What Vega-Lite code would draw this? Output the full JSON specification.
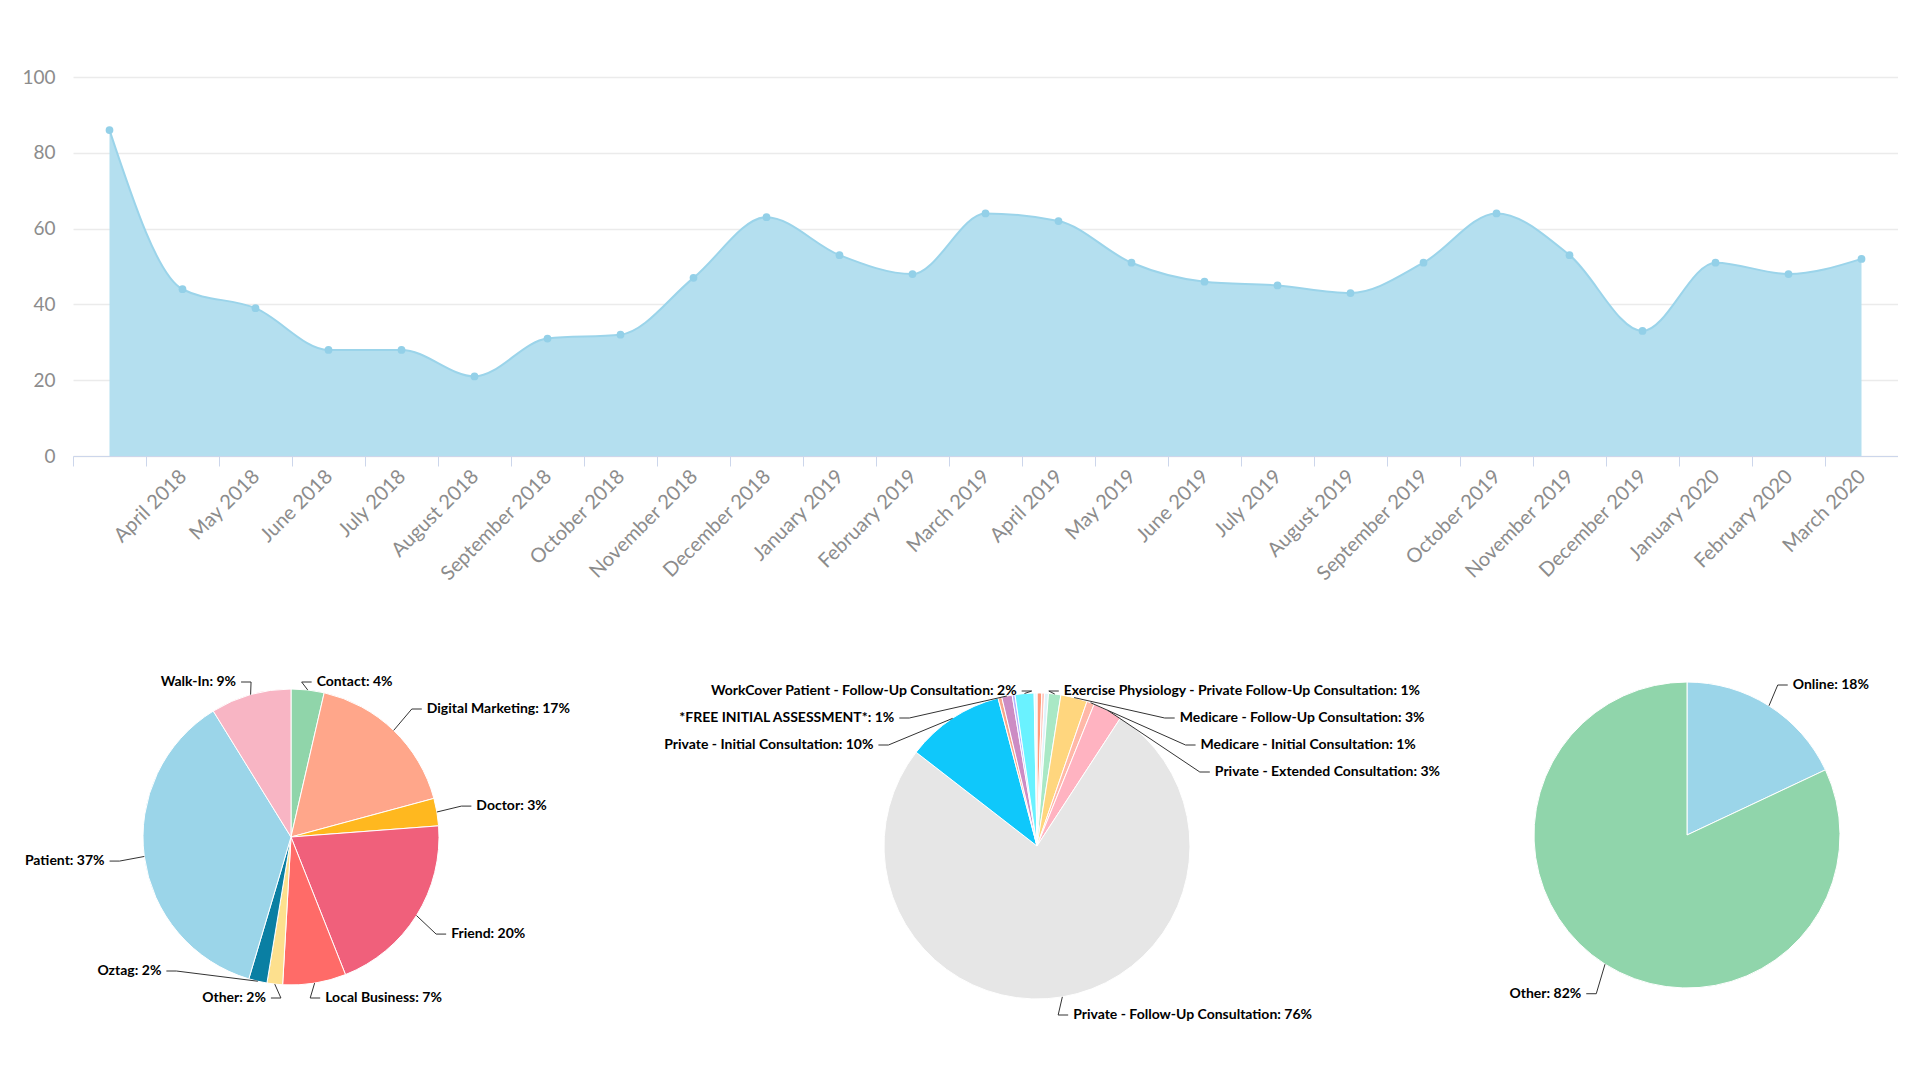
{
  "$schema": "https://vega.github.io/schema/vega-lite/v6.json",
  "background": "white",
  "padding": {"left": 21, "top": 68, "right": 0, "bottom": 0},
  "autosize": {"type": "pad"},
  "bounds": "flush",
  "spacing": 200,
  "config": {
    "view": {"stroke": null},
    "font": "Lato",
    "axis": {"labelFont": "Lato"},
    "text": {"font": "Lato", "fontWeight": "bold", "fontSize": 14, "color": "#000000", "baseline": "middle"},
    "rule": {"color": "#333333", "strokeWidth": 1}
  },
  "vconcat": [
    {
      "width": 1825,
      "height": 379,
      "data": {
        "values": [
          {"month": "March 2018", "value": 86},
          {"month": "April 2018", "value": 44},
          {"month": "May 2018", "value": 39},
          {"month": "June 2018", "value": 28},
          {"month": "July 2018", "value": 28},
          {"month": "August 2018", "value": 21},
          {"month": "September 2018", "value": 31},
          {"month": "October 2018", "value": 32},
          {"month": "November 2018", "value": 47},
          {"month": "December 2018", "value": 63},
          {"month": "January 2019", "value": 53},
          {"month": "February 2019", "value": 48},
          {"month": "March 2019", "value": 64},
          {"month": "April 2019", "value": 62},
          {"month": "May 2019", "value": 51},
          {"month": "June 2019", "value": 46},
          {"month": "July 2019", "value": 45},
          {"month": "August 2019", "value": 43},
          {"month": "September 2019", "value": 51},
          {"month": "October 2019", "value": 64},
          {"month": "November 2019", "value": 53},
          {"month": "December 2019", "value": 33},
          {"month": "January 2020", "value": 51},
          {"month": "February 2020", "value": 48},
          {"month": "March 2020", "value": 52}
        ]
      },
      "encoding": {
        "x": {
          "field": "month",
          "type": "ordinal",
          "sort": null,
          "scale": {"type": "point", "padding": 0.5},
          "axis": {
            "title": null,
            "labelAngle": -45,
            "labelAlign": "right",
            "labelBaseline": "middle",
            "labelFontSize": 20,
            "labelColor": "#8c8c8c",
            "labelPadding": 7,
            "tickSize": 10,
            "tickColor": "#ccd6eb",
            "domainColor": "#ccd6eb",
            "tickOffset": -36.5,
            "labelOffset": 37,
            "labelOverlap": false,
            "labelBound": false,
            "grid": false,
            "labelExpr": "datum.value == 'March 2018' ? '' : datum.label"
          }
        },
        "y": {
          "field": "value",
          "type": "quantitative",
          "scale": {"domain": [0, 100], "nice": false},
          "axis": {
            "title": null,
            "values": [0, 20, 40, 60, 80, 100],
            "domain": false,
            "ticks": false,
            "labelFontSize": 19,
            "labelColor": "#8c8c8c",
            "labelPadding": 18,
            "gridColor": "#ebebeb",
            "gridWidth": 1.5
          }
        }
      },
      "layer": [
        {
          "mark": {
            "type": "area",
            "interpolate": "monotone",
            "color": "#b4dfef",
            "opacity": 1,
            "line": {"color": "#9bd4ea", "strokeWidth": 2}
          }
        },
        {
          "mark": {"type": "point", "filled": true, "size": 60, "color": "#93d0e8", "opacity": 1}
        }
      ]
    },
    {
      "hconcat": [
        {
          "width": 436,
          "height": 362,
          "data": {
            "values": [
              {"name": "Contact", "value": 3.6},
              {"name": "Digital Marketing", "value": 17.2},
              {"name": "Doctor", "value": 3.0},
              {"name": "Friend", "value": 20.2},
              {"name": "Local Business", "value": 6.9},
              {"name": "Other", "value": 1.7},
              {"name": "Oztag", "value": 2.0},
              {"name": "Patient", "value": 36.6},
              {"name": "Walk-In", "value": 8.8}
            ]
          },
          "transform": [
            {"window": [{"op": "row_number", "as": "idx"}]},
            {"joinaggregate": [{"op": "sum", "field": "value", "as": "total"}]},
            {"window": [{"op": "sum", "field": "value", "as": "cum"}], "sort": [{"field": "idx"}], "frame": [null, 0]},
            {"calculate": "(datum.cum - datum.value / 2) / datum.total * 2 * PI", "as": "mid"},
            {"calculate": "datum.mid < PI ? 1 : -1", "as": "side"},
            {"calculate": "datum.value / datum.total >= 0.0075", "as": "shown"},
            {"calculate": "datum.side * datum.mid", "as": "skey"},
            {"window": [{"op": "row_number", "as": "rk"}], "groupby": ["side", "shown"], "sort": [{"field": "skey"}]},
            {"joinaggregate": [{"op": "count", "as": "n"}], "groupby": ["side", "shown"]},
            {"calculate": "min(155, max(-161, 183 * cos(datum.mid)))", "as": "yc"},
            {"calculate": "max(min(datum.yc, 155 - (datum.rk - 1) * 27), -161 + (datum.n - datum.rk) * 27)", "as": "ly"},
            {"calculate": "abs(datum.ly - datum.yc) > 0.5 ? datum.side * sqrt(max(0, 183 * 183 - datum.ly * datum.ly)) : 183 * sin(datum.mid)", "as": "lx"},
            {"calculate": "datum.lx + datum.side * 5", "as": "tx"},
            {"calculate": "datum.lx - datum.side * 10", "as": "kx"},
            {"calculate": "148 * sin(datum.mid)", "as": "ex"},
            {"calculate": "148 * cos(datum.mid)", "as": "ey"},
            {"calculate": "datum.name + ': ' + format(datum.value / datum.total * 100, '.0f') + '%'", "as": "label"}
          ],
          "layer": [
            {
              "mark": {"type": "arc", "radius": 148, "stroke": "#ffffff", "strokeWidth": 1},
              "encoding": {
                "theta": {"field": "value", "type": "quantitative", "stack": true},
                "order": {"field": "idx", "type": "quantitative"},
                "color": {
                  "field": "name",
                  "type": "nominal",
                  "legend": null,
                  "scale": {
                    "domain": ["Contact", "Digital Marketing", "Doctor", "Friend", "Local Business", "Other", "Oztag", "Patient", "Walk-In"],
                    "range": ["#90d5aa", "#ffa68a", "#ffb81f", "#f0607b", "#ff6b68", "#fde08e", "#0a7fa3", "#9bd5e9", "#f8b5c4"]
                  }
                }
              }
            },
            {
              "transform": [{"filter": "datum.shown"}],
              "mark": {"type": "rule"},
              "encoding": {
                "x": {"field": "lx", "type": "quantitative", "scale": {"domain": [-218, 218], "nice": false, "zero": false}, "axis": null},
                "y": {"field": "ly", "type": "quantitative", "scale": {"domain": [-181, 181], "nice": false, "zero": false}, "axis": null},
                "x2": {"field": "kx"},
                "y2": {"field": "ly"}
              }
            },
            {
              "transform": [{"filter": "datum.shown"}],
              "mark": {"type": "rule"},
              "encoding": {
                "x": {"field": "kx", "type": "quantitative", "scale": {"domain": [-218, 218], "nice": false, "zero": false}, "axis": null},
                "y": {"field": "ly", "type": "quantitative", "scale": {"domain": [-181, 181], "nice": false, "zero": false}, "axis": null},
                "x2": {"field": "ex"},
                "y2": {"field": "ey"}
              }
            },
            {
              "transform": [{"filter": "datum.shown && datum.side == 1"}],
              "mark": {"type": "text", "align": "left"},
              "encoding": {
                "x": {"field": "tx", "type": "quantitative", "scale": {"domain": [-218, 218], "nice": false, "zero": false}, "axis": null},
                "y": {"field": "ly", "type": "quantitative", "scale": {"domain": [-181, 181], "nice": false, "zero": false}, "axis": null},
                "text": {"field": "label", "type": "nominal"}
              }
            },
            {
              "transform": [{"filter": "datum.shown && datum.side == -1"}],
              "mark": {"type": "text", "align": "right"},
              "encoding": {
                "x": {"field": "tx", "type": "quantitative", "scale": {"domain": [-218, 218], "nice": false, "zero": false}, "axis": null},
                "y": {"field": "ly", "type": "quantitative", "scale": {"domain": [-181, 181], "nice": false, "zero": false}, "axis": null},
                "text": {"field": "label", "type": "nominal"}
              }
            }
          ]
        },
        {
          "width": 1056,
          "height": 380,
          "data": {
            "values": [
              {"name": "Exercise Physiology - Initial Consultation", "value": 0.5},
              {"name": "Exercise Physiology - Medicare Consultation", "value": 0.3},
              {"name": "Exercise Physiology - Private Consultation", "value": 0.4},
              {"name": "Exercise Physiology - Private Follow-Up Consultation", "value": 1.3},
              {"name": "Medicare - Follow-Up Consultation", "value": 2.8},
              {"name": "Medicare - Initial Consultation", "value": 0.8},
              {"name": "Private - Extended Consultation", "value": 3.1},
              {"name": "Private - Follow-Up Consultation", "value": 76.3},
              {"name": "Private - Initial Consultation", "value": 10.4},
              {"name": "WorkCover - Initial Consultation", "value": 0.4},
              {"name": "*FREE INITIAL ASSESSMENT*", "value": 1.1},
              {"name": "Telehealth Consultation", "value": 0.3},
              {"name": "WorkCover Patient - Follow-Up Consultation", "value": 2.0},
              {"name": "WorkCover Patient - Initial Consultation", "value": 0.3}
            ]
          },
          "transform": [
            {"window": [{"op": "row_number", "as": "idx"}]},
            {"joinaggregate": [{"op": "sum", "field": "value", "as": "total"}]},
            {"window": [{"op": "sum", "field": "value", "as": "cum"}], "sort": [{"field": "idx"}], "frame": [null, 0]},
            {"calculate": "(datum.cum - datum.value / 2) / datum.total * 2 * PI", "as": "mid"},
            {"calculate": "datum.mid < PI ? 1 : -1", "as": "side"},
            {"calculate": "datum.value / datum.total >= 0.0075", "as": "shown"},
            {"calculate": "datum.side * datum.mid", "as": "skey"},
            {"window": [{"op": "row_number", "as": "rk"}], "groupby": ["side", "shown"], "sort": [{"field": "skey"}]},
            {"joinaggregate": [{"op": "count", "as": "n"}], "groupby": ["side", "shown"]},
            {"calculate": "min(155, max(-169, 188 * cos(datum.mid)))", "as": "yc"},
            {"calculate": "max(min(datum.yc, 155 - (datum.rk - 1) * 27), -169 + (datum.n - datum.rk) * 27)", "as": "ly"},
            {"calculate": "abs(datum.ly - datum.yc) > 0.5 ? datum.side * sqrt(max(0, 188 * 188 - datum.ly * datum.ly)) : 188 * sin(datum.mid)", "as": "lx"},
            {"calculate": "datum.lx + datum.side * 5", "as": "tx"},
            {"calculate": "datum.lx - datum.side * 10", "as": "kx"},
            {"calculate": "153 * sin(datum.mid)", "as": "ex"},
            {"calculate": "153 * cos(datum.mid)", "as": "ey"},
            {"calculate": "datum.name + ': ' + format(datum.value / datum.total * 100, '.0f') + '%'", "as": "label"}
          ],
          "layer": [
            {
              "mark": {"type": "arc", "radius": 153, "stroke": "#ffffff", "strokeWidth": 1},
              "encoding": {
                "theta": {"field": "value", "type": "quantitative", "stack": true},
                "order": {"field": "idx", "type": "quantitative"},
                "color": {
                  "field": "name",
                  "type": "nominal",
                  "legend": null,
                  "scale": {
                    "domain": [
                      "Exercise Physiology - Initial Consultation",
                      "Exercise Physiology - Medicare Consultation",
                      "Exercise Physiology - Private Consultation",
                      "Exercise Physiology - Private Follow-Up Consultation",
                      "Medicare - Follow-Up Consultation",
                      "Medicare - Initial Consultation",
                      "Private - Extended Consultation",
                      "Private - Follow-Up Consultation",
                      "Private - Initial Consultation",
                      "WorkCover - Initial Consultation",
                      "*FREE INITIAL ASSESSMENT*",
                      "Telehealth Consultation",
                      "WorkCover Patient - Follow-Up Consultation",
                      "WorkCover Patient - Initial Consultation"
                    ],
                    "range": ["#ff9a7b", "#ffc8c0", "#dff3fb", "#a9e8c5", "#ffd67e", "#ffb8a8", "#ffb3c1", "#e6e6e6", "#0fc8fb", "#f7a78c", "#cc8cc4", "#b3b3ff", "#6af2ff", "#e9fbff"]
                  }
                }
              }
            },
            {
              "transform": [{"filter": "datum.shown"}],
              "mark": {"type": "rule"},
              "encoding": {
                "x": {"field": "lx", "type": "quantitative", "scale": {"domain": [-528, 528], "nice": false, "zero": false}, "axis": null},
                "y": {"field": "ly", "type": "quantitative", "scale": {"domain": [-190, 190], "nice": false, "zero": false}, "axis": null},
                "x2": {"field": "kx"},
                "y2": {"field": "ly"}
              }
            },
            {
              "transform": [{"filter": "datum.shown"}],
              "mark": {"type": "rule"},
              "encoding": {
                "x": {"field": "kx", "type": "quantitative", "scale": {"domain": [-528, 528], "nice": false, "zero": false}, "axis": null},
                "y": {"field": "ly", "type": "quantitative", "scale": {"domain": [-190, 190], "nice": false, "zero": false}, "axis": null},
                "x2": {"field": "ex"},
                "y2": {"field": "ey"}
              }
            },
            {
              "transform": [{"filter": "datum.shown && datum.side == 1"}],
              "mark": {"type": "text", "align": "left"},
              "encoding": {
                "x": {"field": "tx", "type": "quantitative", "scale": {"domain": [-528, 528], "nice": false, "zero": false}, "axis": null},
                "y": {"field": "ly", "type": "quantitative", "scale": {"domain": [-190, 190], "nice": false, "zero": false}, "axis": null},
                "text": {"field": "label", "type": "nominal"}
              }
            },
            {
              "transform": [{"filter": "datum.shown && datum.side == -1"}],
              "mark": {"type": "text", "align": "right"},
              "encoding": {
                "x": {"field": "tx", "type": "quantitative", "scale": {"domain": [-528, 528], "nice": false, "zero": false}, "axis": null},
                "y": {"field": "ly", "type": "quantitative", "scale": {"domain": [-190, 190], "nice": false, "zero": false}, "axis": null},
                "text": {"field": "label", "type": "nominal"}
              }
            }
          ]
        },
        {
          "width": 244,
          "height": 358,
          "data": {
            "values": [
              {"name": "Online", "value": 18},
              {"name": "Other", "value": 82}
            ]
          },
          "transform": [
            {"window": [{"op": "row_number", "as": "idx"}]},
            {"joinaggregate": [{"op": "sum", "field": "value", "as": "total"}]},
            {"window": [{"op": "sum", "field": "value", "as": "cum"}], "sort": [{"field": "idx"}], "frame": [null, 0]},
            {"calculate": "(datum.cum - datum.value / 2) / datum.total * 2 * PI", "as": "mid"},
            {"calculate": "datum.mid < PI ? 1 : -1", "as": "side"},
            {"calculate": "datum.value / datum.total >= 0.0075", "as": "shown"},
            {"calculate": "datum.side * datum.mid", "as": "skey"},
            {"window": [{"op": "row_number", "as": "rk"}], "groupby": ["side", "shown"], "sort": [{"field": "skey"}]},
            {"joinaggregate": [{"op": "count", "as": "n"}], "groupby": ["side", "shown"]},
            {"calculate": "min(150, max(-165, 188 * cos(datum.mid)))", "as": "yc"},
            {"calculate": "max(min(datum.yc, 150 - (datum.rk - 1) * 27), -165 + (datum.n - datum.rk) * 27)", "as": "ly"},
            {"calculate": "abs(datum.ly - datum.yc) > 0.5 ? datum.side * sqrt(max(0, 188 * 188 - datum.ly * datum.ly)) : 188 * sin(datum.mid)", "as": "lx"},
            {"calculate": "datum.lx + datum.side * 5", "as": "tx"},
            {"calculate": "datum.lx - datum.side * 10", "as": "kx"},
            {"calculate": "153 * sin(datum.mid)", "as": "ex"},
            {"calculate": "153 * cos(datum.mid)", "as": "ey"},
            {"calculate": "datum.name + ': ' + format(datum.value / datum.total * 100, '.0f') + '%'", "as": "label"}
          ],
          "layer": [
            {
              "mark": {"type": "arc", "radius": 153, "stroke": "#ffffff", "strokeWidth": 1},
              "encoding": {
                "theta": {"field": "value", "type": "quantitative", "stack": true},
                "order": {"field": "idx", "type": "quantitative"},
                "color": {
                  "field": "name",
                  "type": "nominal",
                  "legend": null,
                  "scale": {"domain": ["Online", "Other"], "range": ["#9bd5e9", "#90d5ab"]}
                }
              }
            },
            {
              "transform": [{"filter": "datum.shown"}],
              "mark": {"type": "rule"},
              "encoding": {
                "x": {"field": "lx", "type": "quantitative", "scale": {"domain": [-122, 122], "nice": false, "zero": false}, "axis": null},
                "y": {"field": "ly", "type": "quantitative", "scale": {"domain": [-179, 179], "nice": false, "zero": false}, "axis": null},
                "x2": {"field": "kx"},
                "y2": {"field": "ly"}
              }
            },
            {
              "transform": [{"filter": "datum.shown"}],
              "mark": {"type": "rule"},
              "encoding": {
                "x": {"field": "kx", "type": "quantitative", "scale": {"domain": [-122, 122], "nice": false, "zero": false}, "axis": null},
                "y": {"field": "ly", "type": "quantitative", "scale": {"domain": [-179, 179], "nice": false, "zero": false}, "axis": null},
                "x2": {"field": "ex"},
                "y2": {"field": "ey"}
              }
            },
            {
              "transform": [{"filter": "datum.shown && datum.side == 1"}],
              "mark": {"type": "text", "align": "left"},
              "encoding": {
                "x": {"field": "tx", "type": "quantitative", "scale": {"domain": [-122, 122], "nice": false, "zero": false}, "axis": null},
                "y": {"field": "ly", "type": "quantitative", "scale": {"domain": [-179, 179], "nice": false, "zero": false}, "axis": null},
                "text": {"field": "label", "type": "nominal"}
              }
            },
            {
              "transform": [{"filter": "datum.shown && datum.side == -1"}],
              "mark": {"type": "text", "align": "right"},
              "encoding": {
                "x": {"field": "tx", "type": "quantitative", "scale": {"domain": [-122, 122], "nice": false, "zero": false}, "axis": null},
                "y": {"field": "ly", "type": "quantitative", "scale": {"domain": [-179, 179], "nice": false, "zero": false}, "axis": null},
                "text": {"field": "label", "type": "nominal"}
              }
            }
          ]
        }
      ],
      "spacing": 0,
      "bounds": "flush",
      "align": "none",
      "resolve": {"scale": {"color": "independent", "theta": "independent", "x": "independent", "y": "independent"}}
    }
  ]
}
